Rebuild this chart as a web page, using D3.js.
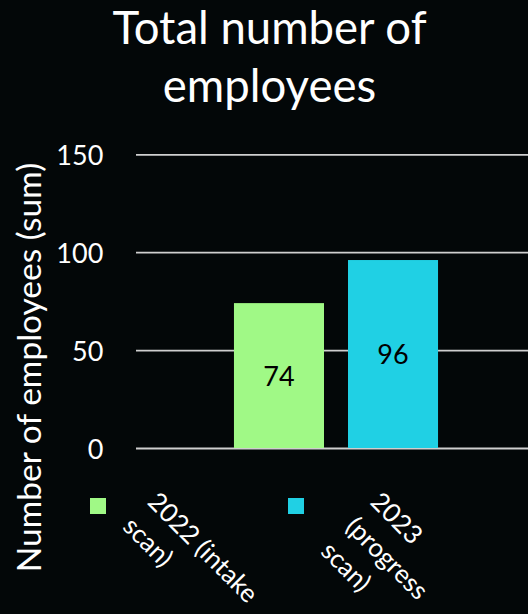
<!DOCTYPE html>
<html>
<head>
<meta charset="utf-8">
<script src="https://cdn.jsdelivr.net/npm/d3@7"></script>
<style>
  html, body { margin: 0; padding: 0; background: #030708; }
  svg { display: block; }
</style>
</head>
<body>
<svg id="chart" width="528" height="614"></svg>
<script>
// Chart data
const categories = ["Total"];
const seriesNames = ["2022 (intake scan)", "2023 (progress scan)"];
const seriesLegendLines = [["2022 (intake", "scan)"], ["2023", "(progress", "scan)"]];
const seriesValues = [74, 96];
const seriesColors = ["#a0f986", "#20d0e4"];
const yTickValues = [0, 50, 100, 150];
const titleLines = ["Total number of", "employees"];
const yAxisTitle = "Number of employees (sum)";

const W = 528, H = 614;
const FONT = "Lato, 'Open Sans', sans-serif";
const TEXT = "#ffffff";

const svg = d3.select("#chart");
svg.append("rect").attr("width", W).attr("height", H).attr("fill", "#030708");

const plot = { left: 136, right: 536, top: 154.3, bottom: 448 };

const y = d3.scaleLinear().domain([0, 150]).range([plot.bottom, plot.top]);
const x0 = d3.scaleBand().domain(categories)
  .range([plot.left, plot.right]).paddingInner(0).paddingOuter(0.48);
const x1 = d3.scaleBand().domain(seriesNames)
  .range([0, x0.bandwidth()]).paddingInner(0.2105).paddingOuter(0);

// Gridlines and tick labels
const yAxis = d3.axisLeft(y).tickValues(yTickValues)
  .tickSize(-(plot.right - plot.left)).tickPadding(32.7);
const gy = svg.append("g").attr("transform", `translate(${plot.left},0)`).call(yAxis);
gy.select(".domain").remove();
gy.selectAll(".tick line").attr("stroke", "#cfcfcf").attr("stroke-width", 1.8);
gy.selectAll(".tick text")
  .attr("fill", TEXT).attr("font-family", FONT).attr("font-size", 27)
  .attr("dy", null).attr("y", 10);

// Bars
const groups = svg.append("g").selectAll("g").data(categories).join("g")
  .attr("transform", d => `translate(${x0(d)},0)`);
const barData = seriesNames.map((s, i) => ({ s, v: seriesValues[i], c: seriesColors[i] }));
groups.selectAll("rect").data(barData).join("rect")
  .attr("x", d => x1(d.s)).attr("width", x1.bandwidth())
  .attr("y", d => y(d.v)).attr("height", d => y(0) - y(d.v))
  .attr("fill", d => d.c);

// Value labels centred in each bar
groups.selectAll("text.val").data(barData).join("text")
  .attr("class", "val")
  .attr("x", d => x1(d.s) + x1.bandwidth() / 2)
  .attr("y", d => (y(d.v) + y(0)) / 2 + 10)
  .attr("text-anchor", "middle")
  .attr("font-family", FONT).attr("font-size", 27).attr("fill", "#000")
  .text(d => d.v);

// Title
svg.append("text")
  .attr("x", 269.5).attr("text-anchor", "middle")
  .attr("font-family", FONT).attr("font-size", 45.5).attr("fill", TEXT)
  .selectAll("tspan").data(titleLines).join("tspan")
  .attr("x", 269.5).attr("y", (d, i) => 43.5 + i * 58)
  .text(d => d);

// Y axis title
svg.append("text")
  .attr("transform", `translate(40.5,${(163 + 572) / 2}) rotate(-90)`)
  .attr("text-anchor", "middle")
  .attr("font-family", FONT).attr("font-size", 33.5).attr("fill", TEXT)
  .text(yAxisTitle);

// Legend: swatch followed by wrapped label rotated 45 degrees
const legendX0 = 90, legendStep = 198, legendY = 498, sw = 16, lineH = 35;
const items = svg.append("g").selectAll("g").data(seriesNames).join("g")
  .attr("transform", (d, i) => `translate(${legendX0 + i * legendStep},${legendY})`);
items.append("rect").attr("width", sw).attr("height", sw)
  .attr("fill", (d, i) => seriesColors[i]);
items.each(function (d, i) {
  const lines = seriesLegendLines[i];
  const px = 31.5 + (lines.length - 1) * lineH / Math.SQRT2;
  const py = 5.3;
  const t = d3.select(this).append("text")
    .attr("transform", `translate(${px},${py}) rotate(45)`)
    .attr("font-family", FONT).attr("font-size", 26).attr("fill", TEXT);
  t.selectAll("tspan").data(lines).join("tspan")
    .attr("x", 0).attr("y", (l, k) => k * lineH)
    .text(l => l);
});
</script>
</body>
</html>
